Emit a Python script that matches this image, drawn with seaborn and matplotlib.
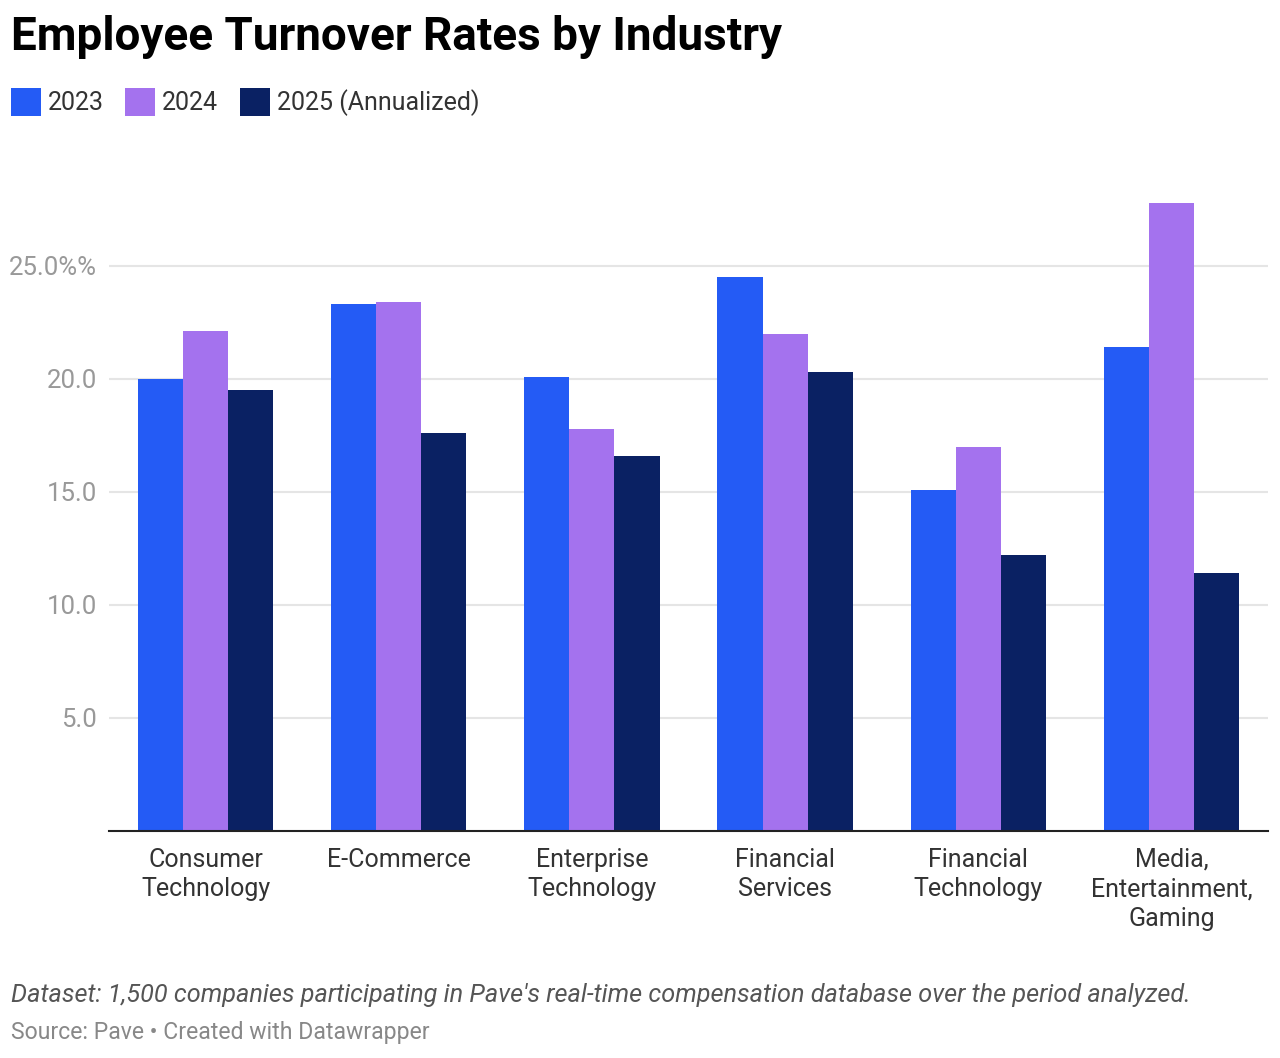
import pandas as pd
import matplotlib.pyplot as plt
import seaborn as sns

# Data
industries = ["Consumer\nTechnology", "E-Commerce", "Enterprise\nTechnology",
              "Financial\nServices", "Financial\nTechnology", "Media,\nEntertainment,\nGaming"]
years = ["2023", "2024", "2025 (Annualized)"]
rate_2023 = [20.0, 23.3, 20.1, 24.5, 15.1, 21.4]
rate_2024 = [22.1, 23.4, 17.8, 22.0, 17.0, 27.8]
rate_2025 = [19.5, 17.6, 16.6, 20.3, 12.2, 11.4]
y_ticks = [5, 10, 15, 20, 25]
y_labels = ["5.0", "10.0", "15.0", "20.0", "25.0%%"]
colors = ["#245BF5", "#A472EE", "#0A2163"]

df = pd.DataFrame({
    "industry": industries * 3,
    "year": [y for y in years for _ in industries],
    "rate": rate_2023 + rate_2024 + rate_2025,
})

sns.set_theme(style="white")
plt.rcParams['font.family'] = ['Roboto', 'DejaVu Sans']

fig = plt.figure(figsize=(12.8, 10.58), dpi=100)
ax = fig.add_axes([109 / 1280, 1 - 831 / 1058, (1268 - 109) / 1280, (831 - 198) / 1058])

sns.barplot(data=df, x="industry", y="rate", hue="year", palette=colors,
            width=0.7, saturation=1, linewidth=0, ax=ax)

ax.set_xlim(-0.5, 5.5)
ax.set_ylim(0, 28)
ax.set_yticks(y_ticks)
ax.set_yticklabels(y_labels)
ax.tick_params(axis="y", length=0, pad=8.6, labelsize=18.5, labelcolor="#999999")
ax.tick_params(axis="x", length=0, pad=12, labelsize=18, labelcolor="#333333")
for lbl in ax.get_xticklabels():
    lbl.set_linespacing(1.3)
ax.set_xlabel("")
ax.set_ylabel("")
ax.grid(axis="y", color="#e5e5e5", linewidth=1.5)
ax.set_axisbelow(True)
for s in ["top", "right", "left"]:
    ax.spines[s].set_visible(False)
ax.spines["bottom"].set_color("#222222")
ax.spines["bottom"].set_linewidth(1.5)

handles, labels = ax.get_legend_handles_labels()
ax.get_legend().remove()
fig.legend(handles, labels, loc="upper left", bbox_to_anchor=(11 / 1280, 1 - 88 / 1058),
           ncol=3, frameon=False, fontsize=18, handlelength=1.2, handleheight=1.35,
           handletextpad=0.28, columnspacing=0.85, labelcolor="#333333",
           borderpad=0, borderaxespad=0)

fig.text(11 / 1280, 1 - 37 / 1058, "Employee Turnover Rates by Industry",
         fontsize=33, fontweight="bold", color="#000000", va="center")
fig.text(11 / 1280, 1 - 995 / 1058,
         "Dataset: 1,500 companies participating in Pave's real-time compensation database over the period analyzed.",
         fontsize=18.2, style="italic", color="#555555", va="center")
fig.text(11 / 1280, 1 - 1033 / 1058, "Source: Pave \u2022 Created with Datawrapper",
         fontsize=16.6, color="#888888", va="center")

fig.savefig("out.png", dpi=100)
